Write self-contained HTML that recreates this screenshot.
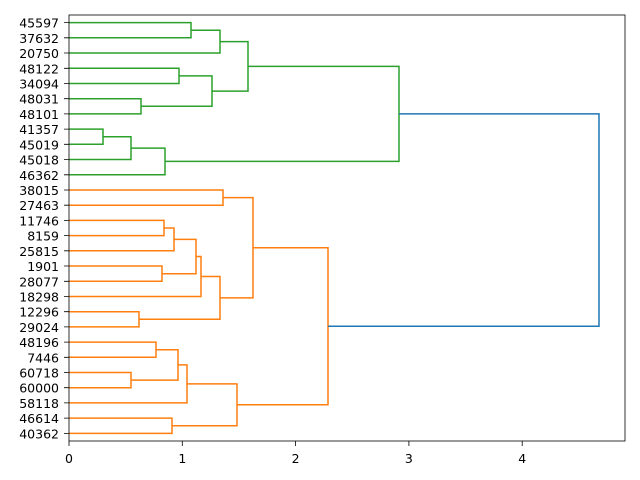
<!DOCTYPE html>
<html><head><meta charset="utf-8"><style>body{margin:0;background:#fff}svg{display:block}text{font-family:"DejaVu Sans","Liberation Sans",sans-serif;font-size:12.5px;fill:#000}</style></head><body>
<svg width="640" height="480" viewBox="0 0 640 480" xmlns="http://www.w3.org/2000/svg">
<rect width="640" height="480" fill="#fff"/>
<g fill="none" stroke-width="1.5">
<g stroke="#2ca02c">
<path d="M69 22.6H191V37.8H69"/>
<path d="M191 30.2H220V53H69"/>
<path d="M69 68.3H179V83.5H69"/>
<path d="M69 98.7H141V113.9H69"/>
<path d="M179 75.9H212V106.3H141"/>
<path d="M220 41.6H248V91.1H212"/>
<path d="M69 129.1H103V144.3H69"/>
<path d="M103 136.7H131V159.5H69"/>
<path d="M131 148.1H165V174.8H69"/>
<path d="M248 66.4H399V161.4H165"/>
</g>
<g stroke="#ff7f0e">
<path d="M69 190H223V205.2H69"/>
<path d="M69 220.4H164V235.6H69"/>
<path d="M164 228H174V250.8H69"/>
<path d="M69 266H162V281.3H69"/>
<path d="M174 239.4H196V273.7H162"/>
<path d="M196 256.5H201V296.5H69"/>
<path d="M69 311.7H139V326.9H69"/>
<path d="M201 276.5H220V319.3H139"/>
<path d="M223 197.6H253V297.9H220"/>
<path d="M69 342.1H156V357.3H69"/>
<path d="M69 372.5H131V387.7H69"/>
<path d="M156 349.7H178V380.1H131"/>
<path d="M178 364.9H187V402.9H69"/>
<path d="M69 418.1H172V433.4H69"/>
<path d="M187 383.9H237V425.8H172"/>
<path d="M253 247.8H328V404.8H237"/>
</g>
<path stroke="#1f77b4" d="M399 113.9H599V326.3H328"/>
</g>
<rect x="69" y="15" width="556" height="426" fill="none" stroke="#000" stroke-width="0.8"/>
<g stroke="#000" stroke-width="0.8">
<path d="M69 441v5M182.3 441v5M295.6 441v5M408.9 441v5M522.2 441v5"/>
<path d="M69 22.6h-5M69 37.8h-5M69 53h-5M69 68.3h-5M69 83.5h-5M69 98.7h-5M69 113.9h-5M69 129.1h-5M69 144.3h-5M69 159.5h-5M69 174.8h-5M69 190h-5M69 205.2h-5M69 220.4h-5M69 235.6h-5M69 250.8h-5M69 266h-5M69 281.3h-5M69 296.5h-5M69 311.7h-5M69 326.9h-5M69 342.1h-5M69 357.3h-5M69 372.5h-5M69 387.7h-5M69 402.9h-5M69 418.1h-5M69 433.4h-5"/>
</g>
<g text-anchor="middle">
<text x="69" y="463">0</text><text x="182.3" y="463">1</text><text x="295.6" y="463">2</text><text x="408.9" y="463">3</text><text x="522.2" y="463">4</text>
</g>
<g text-anchor="end" transform="translate(0,5)">
<text x="59" y="22.6">45597</text><text x="59" y="37.8">37632</text><text x="59" y="53">20750</text><text x="59" y="68.3">48122</text><text x="59" y="83.5">34094</text><text x="59" y="98.7">48031</text><text x="59" y="113.9">48101</text><text x="59" y="129.1">41357</text><text x="59" y="144.3">45019</text><text x="59" y="159.5">45018</text><text x="59" y="174.8">46362</text><text x="59" y="190">38015</text><text x="59" y="205.2">27463</text><text x="59" y="220.4">11746</text><text x="59" y="235.6">8159</text><text x="59" y="250.8">25815</text><text x="59" y="266">1901</text><text x="59" y="281.3">28077</text><text x="59" y="296.5">18298</text><text x="59" y="311.7">12296</text><text x="59" y="326.9">29024</text><text x="59" y="342.1">48196</text><text x="59" y="357.3">7446</text><text x="59" y="372.5">60718</text><text x="59" y="387.7">60000</text><text x="59" y="402.9">58118</text><text x="59" y="418.1">46614</text><text x="59" y="433.4">40362</text>
</g>
</svg>
</body></html>
